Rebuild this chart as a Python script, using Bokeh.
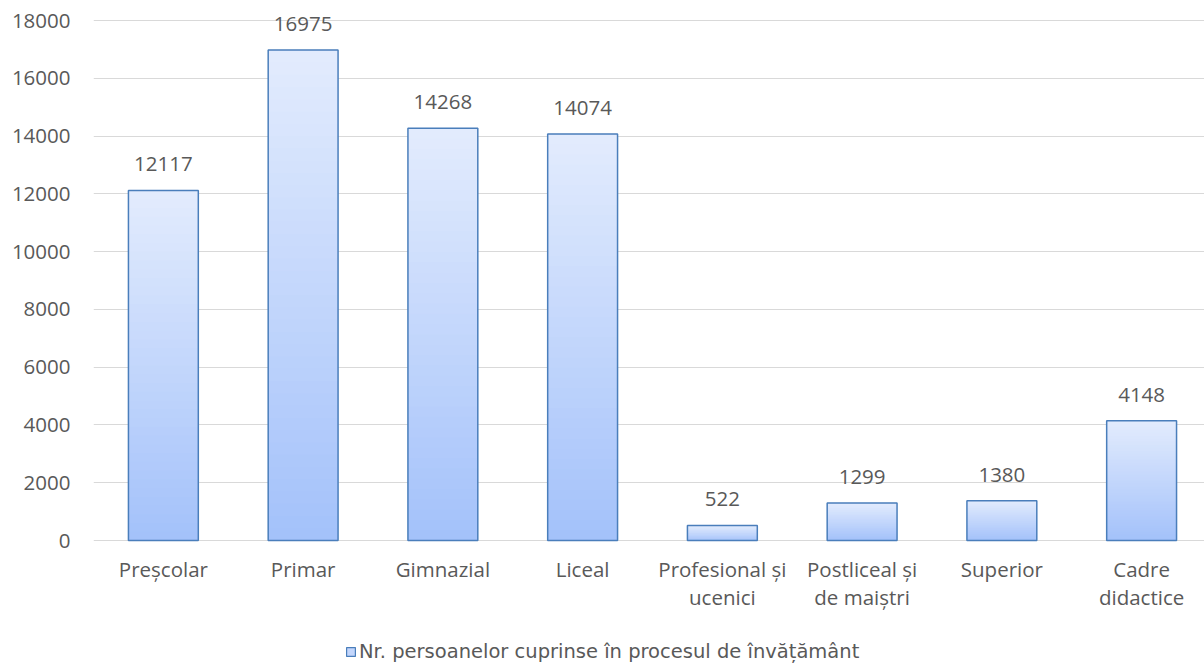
import numpy as np
from bokeh.plotting import figure
from bokeh.models import FixedTicker, Legend, LegendItem
from bokeh.embed import file_html
from bokeh.resources import INLINE
from bokeh.core.properties import value

categories = ["Preșcolar", "Primar", "Gimnazial", "Liceal",
              "Profesional și\nucenici", "Postliceal și\nde maiștri",
              "Superior", "Cadre\ndidactice"]
values = [12117, 16975, 14268, 14074, 522, 1299, 1380, 4148]
y_ticks = [0, 2000, 4000, 6000, 8000, 10000, 12000, 14000, 16000, 18000]
series_name = "Nr. persoanelor cuprinse în procesul de învățământ"

FONT = "Open Sans"
FS = "20.5px"
GRAY = "#595959"
BORDER = "#4a7ebb"
TOP = np.array([227, 236, 253])
BOT = np.array([163, 193, 250])

W, H = 1204, 664
TOP_GAP, LEFT_PAD = 20, 93      # pixels above the top tick, left of the plot
PLOT_PX = 520                   # pixels from 0 to the top tick
y_top_tick = y_ticks[-1]
px_per_unit = PLOT_PX / y_top_tick
y_hi = y_top_tick + TOP_GAP / px_per_unit
y_lo = -(H - TOP_GAP - PLOT_PX) / px_per_unit

xs = list(range(len(categories)))

p = figure(width=W, height=H, x_range=(-0.5, 7.45), y_range=(y_lo, y_hi),
           output_backend="svg", toolbar_location=None,
           min_border_left=LEFT_PAD, min_border_right=0, min_border_top=0,
           min_border_bottom=0)
p.outline_line_color = None
p.background_fill_color = "white"
p.border_fill_color = "white"

# gradient bars built from stacked, slightly overlapping slices of each value
N = 40
sx, sb, st, sc = [], [], [], []
for xi, v in zip(xs, values):
    for k in range(N):
        f = (k + 0.5) / N
        c = BOT + (TOP - BOT) * f
        sx.append(xi)
        sb.append(v * k / N)
        st.append(min(v, v * (k + 2) / N))
        sc.append("#%02x%02x%02x" % tuple(int(round(t)) for t in c))
p.vbar(x=sx, bottom=sb, top=st, width=0.5, fill_color=sc, line_color=None)
p.vbar(x=xs, top=values, width=0.5, fill_alpha=0,
       line_color=BORDER, line_width=1.5)

# legend proxy renderer (zero size)
proxy = p.vbar(x=[0], top=[0], width=0.0, fill_color="#c3d6fc",
               line_color=BORDER, line_width=1.2)

# value labels
p.text(x=xs, y=values, text=[str(v) for v in values], y_offset=-26,
       text_align="center", text_baseline="middle", text_font=value(FONT),
       text_font_size=FS, text_color=GRAY)

# category labels
p.text(x=xs, y=[0] * len(xs), text=categories, y_offset=14,
       text_align="center", text_baseline="top", text_font=value(FONT),
       text_font_size=FS, text_color=GRAY, text_line_height=1.0)

p.ygrid.ticker = FixedTicker(ticks=y_ticks)
p.ygrid.grid_line_color = "#d9d9d9"
p.ygrid.grid_line_width = 1
p.xgrid.grid_line_color = None
p.xaxis.visible = False

p.yaxis.ticker = FixedTicker(ticks=y_ticks)
p.yaxis.axis_line_color = None
p.yaxis.major_tick_line_color = None
p.yaxis.minor_tick_line_color = None
p.yaxis.major_label_text_font = FONT
p.yaxis.major_label_text_font_size = FS
p.yaxis.major_label_text_color = GRAY
p.yaxis.major_label_standoff = 17

legend = Legend(items=[LegendItem(label=series_name, renderers=[proxy])],
                location=(252, 1), orientation="horizontal",
                border_line_color=None, background_fill_alpha=0,
                padding=0, margin=0, glyph_width=11, glyph_height=11,
                label_standoff=3, label_text_font="DejaVu Sans",
                label_text_font_size="19.5px", label_text_color=GRAY)
p.add_layout(legend, "center")

open("out.html", "w").write(file_html(p, INLINE))
